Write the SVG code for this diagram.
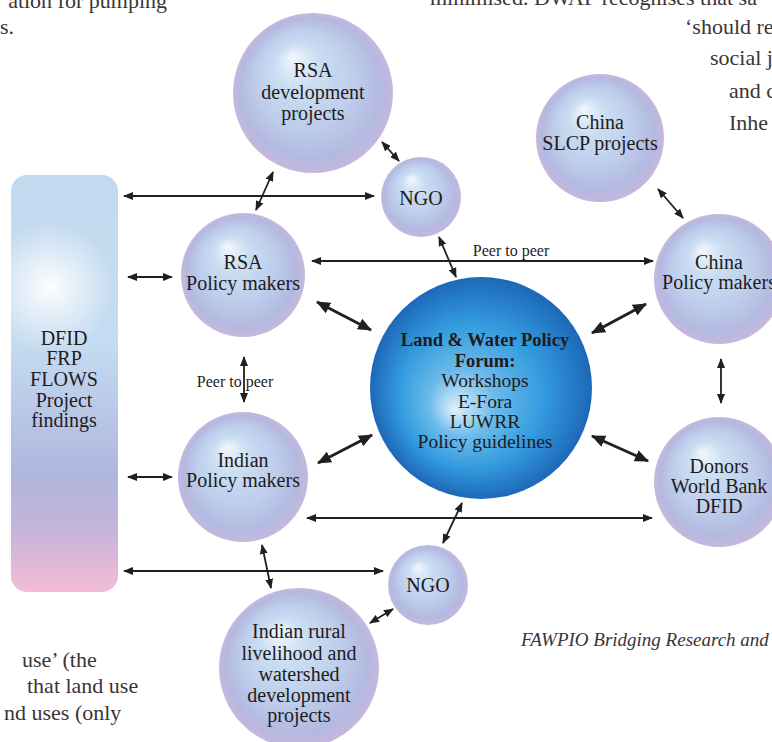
<svg xmlns="http://www.w3.org/2000/svg" width="772" height="742" viewBox="0 0 772 742">
<style>
.bg{font-family:"Liberation Serif","Times New Roman",serif;font-size:22px;fill:#3c3436}
.cap{font-family:"Liberation Serif","Times New Roman",serif;font-size:19px;font-style:italic;fill:#3c3436}
.n{font-family:"Liberation Serif","Times New Roman",serif;font-size:20px;fill:#1f1b1c;text-anchor:middle}
.f{font-family:"Liberation Serif","Times New Roman",serif;font-size:19.5px;fill:#1f1b1c;text-anchor:middle}
.fb{font-weight:bold;font-size:18.5px}
.pl{font-family:"Liberation Serif","Times New Roman",serif;font-size:16px;fill:#1f1b1c}
.sph{fill:url(#gs)}
.t{stroke:#231f20;stroke-width:1.8;fill:none;marker-start:url(#ah);marker-end:url(#ah)}
.k{stroke:#231f20;stroke-width:3;fill:none;marker-start:url(#ahb);marker-end:url(#ahb)}
</style>
<defs>
<radialGradient id="gs" cx="0.5" cy="0.5" r="0.5" fx="0.37" fy="0.27">
<stop offset="0" stop-color="#f2f7fc"/>
<stop offset="0.28" stop-color="#cadef2"/>
<stop offset="0.62" stop-color="#bdcdeb"/>
<stop offset="0.88" stop-color="#b3b9e0"/>
<stop offset="1" stop-color="#c7b7dd"/>
</radialGradient>
<radialGradient id="gf" cx="0.5" cy="0.5" r="0.5" fx="0.38" fy="0.6">
<stop offset="0" stop-color="#dff0fa"/>
<stop offset="0.3" stop-color="#6cbbea"/>
<stop offset="0.65" stop-color="#339bde"/>
<stop offset="1" stop-color="#1d68b8"/>
</radialGradient>
<linearGradient id="gr" x1="0" y1="0" x2="0" y2="1">
<stop offset="0" stop-color="#c3d9ef"/>
<stop offset="0.4" stop-color="#c4dcf1"/>
<stop offset="0.72" stop-color="#afb6dd"/>
<stop offset="0.85" stop-color="#c6b4da"/>
<stop offset="1" stop-color="#f3bdd6"/>
</linearGradient>
<radialGradient id="gh" cx="50" cy="287" r="65" gradientUnits="userSpaceOnUse">
<stop offset="0" stop-color="#ffffff" stop-opacity="0.95"/>
<stop offset="1" stop-color="#ffffff" stop-opacity="0"/>
</radialGradient>
<marker id="ah" viewBox="0 0 10 8" refX="9" refY="4" markerWidth="10" markerHeight="8" markerUnits="userSpaceOnUse" orient="auto-start-reverse"><path d="M0,0 L10,4 L0,8 z" fill="#231f20"/></marker>
<marker id="ahb" viewBox="0 0 14 12" refX="13" refY="6" markerWidth="14" markerHeight="12" markerUnits="userSpaceOnUse" orient="auto-start-reverse"><path d="M0,0 L14,6 L0,12 z" fill="#231f20"/></marker>
</defs>
<rect width="772" height="742" fill="#ffffff"/>

<g id="page-text">
<text class="bg" x="167" y="8" text-anchor="end">ation for pumping</text>
<text class="bg" x="0" y="34">s.</text>
<text class="bg" x="430" y="5">minimised. DWAF recognises that sa</text>
<text class="bg" x="685" y="34">‘should re</text>
<text class="bg" x="710" y="65">social j</text>
<text class="bg" x="729" y="98">and c</text>
<text class="bg" x="729" y="130">Inhe</text>
<text class="bg" x="22" y="667">use’ (the</text>
<text class="bg" x="27" y="693">that land use</text>
<text class="bg" x="4" y="720">nd uses (only</text>
<text class="cap" x="521" y="646">FAWPIO Bridging Research and</text>
</g>

<g id="connectors">
<line class="t" x1="124" y1="196" x2="374" y2="196"/>
<line class="t" x1="128" y1="277" x2="172" y2="277"/>
<line class="t" x1="128" y1="477" x2="172" y2="477"/>
<line class="t" x1="124" y1="571" x2="383" y2="571"/>
<line class="t" x1="273" y1="172" x2="256" y2="210"/>
<line class="t" x1="382" y1="142" x2="399" y2="161"/>
<line class="t" x1="439" y1="237" x2="456" y2="277"/>
<line class="t" x1="312" y1="261" x2="653" y2="261"/>
<line class="k" x1="317" y1="302" x2="371" y2="330"/>
<line class="k" x1="646" y1="304" x2="592" y2="333"/>
<line class="t" x1="658" y1="189" x2="683" y2="218"/>
<line class="t" x1="721" y1="359" x2="721" y2="403"/>
<line class="k" x1="592" y1="436" x2="648" y2="461"/>
<line class="k" x1="372" y1="435" x2="318" y2="463"/>
<line class="t" x1="307" y1="518" x2="652" y2="518"/>
<line class="t" x1="462" y1="503" x2="443" y2="543"/>
<line class="t" x1="262" y1="545" x2="271" y2="588"/>
<line class="t" x1="393" y1="609" x2="370" y2="623"/>
<line class="t" x1="244" y1="357" x2="244" y2="402"/>
<text class="pl" x="511" y="256" text-anchor="middle">Peer to peer</text>
<text class="pl" x="235" y="387" text-anchor="middle">Peer to peer</text>
</g>

<g id="dfid-frp">
<rect x="11" y="175" width="107" height="417" rx="16" fill="url(#gr)"/>
<rect x="11" y="175" width="107" height="417" rx="16" fill="url(#gh)"/>
<text class="n" x="64" y="345">DFID</text>
<text class="n" x="64" y="365">FRP</text>
<text class="n" x="64" y="386">FLOWS</text>
<text class="n" x="64" y="407">Project</text>
<text class="n" x="64" y="427">findings</text>
</g>

<g id="rsa-dev">
<circle class="sph" cx="313" cy="93" r="80"/>
<text class="n" x="313" y="77">RSA</text>
<text class="n" x="313" y="99">development</text>
<text class="n" x="313" y="120">projects</text>
</g>

<g id="ngo-top">
<circle class="sph" cx="421" cy="197" r="40"/>
<text class="n" x="421" y="205">NGO</text>
</g>

<g id="china-slcp">
<circle class="sph" cx="600" cy="138" r="64"/>
<text class="n" x="600" y="129">China</text>
<text class="n" x="600" y="150">SLCP projects</text>
</g>

<g id="rsa-policy">
<circle class="sph" cx="243" cy="275" r="62"/>
<text class="n" x="243" y="269">RSA</text>
<text class="n" x="243" y="290">Policy makers</text>
</g>

<g id="china-policy">
<circle class="sph" cx="719" cy="279" r="65"/>
<text class="n" x="719" y="269">China</text>
<text class="n" x="719" y="289">Policy makers</text>
</g>

<g id="forum">
<circle cx="481" cy="388" r="111" fill="url(#gf)"/>
<text class="f fb" x="485" y="346">Land &amp; Water Policy</text>
<text class="f fb" x="485" y="367">Forum:</text>
<text class="f" x="485" y="387">Workshops</text>
<text class="f" x="485" y="408">E-Fora</text>
<text class="f" x="485" y="428">LUWRR</text>
<text class="f" x="485" y="448">Policy guidelines</text>
</g>

<g id="indian-policy">
<circle class="sph" cx="243" cy="477" r="65"/>
<text class="n" x="243" y="467">Indian</text>
<text class="n" x="243" y="487">Policy makers</text>
</g>

<g id="donors">
<circle class="sph" cx="719" cy="482" r="65"/>
<text class="n" x="719" y="473">Donors</text>
<text class="n" x="719" y="493">World Bank</text>
<text class="n" x="719" y="513">DFID</text>
</g>

<g id="ngo-bottom">
<circle class="sph" cx="428" cy="585" r="40"/>
<text class="n" x="428" y="592">NGO</text>
</g>

<g id="indian-rural">
<circle class="sph" cx="299" cy="668" r="80"/>
<text class="n" x="299" y="638">Indian rural</text>
<text class="n" x="299" y="660">livelihood and</text>
<text class="n" x="299" y="681">watershed</text>
<text class="n" x="299" y="702">development</text>
<text class="n" x="299" y="722">projects</text>
</g>
</svg>
